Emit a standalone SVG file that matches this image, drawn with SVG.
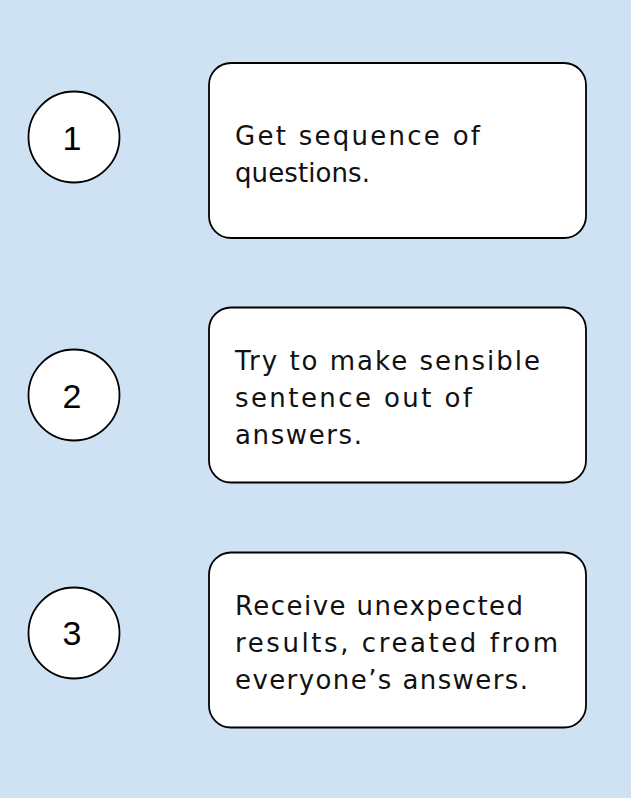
<svg xmlns="http://www.w3.org/2000/svg" width="633" height="800" viewBox="0 0 633 800">
  <style>
    .bg { fill: #cfe2f3; }
    .circ { fill: #ffffff; stroke: #000000; stroke-width: 1.8; }
    .box { fill: #ffffff; stroke: #000000; stroke-width: 1.8; }
    .num { font-family: "Liberation Sans", Arial, sans-serif; font-size: 34px; fill: #000000; text-anchor: middle; }
    .lbl { font-family: "DejaVu Sans", "Liberation Sans", sans-serif; font-size: 26px; fill: #111111; }
  </style>
  <rect class="bg" x="0" y="0" width="631" height="798"/>
  <g id="step1-number">
    <circle class="circ" cx="74" cy="137" r="45.5"/>
    <text class="num" x="72" y="150">1</text>
  </g>
  <g id="step1-box">
    <rect class="box" x="209" y="63" width="377" height="175" rx="22" ry="22"/>
    <text class="lbl" x="235" y="145" textLength="245" lengthAdjust="spacing">Get sequence of</text>
    <text class="lbl" x="235" y="182" textLength="135" lengthAdjust="spacing">questions.</text>
  </g>
  <g id="step2-number">
    <circle class="circ" cx="74" cy="395" r="45.5"/>
    <text class="num" x="72" y="408">2</text>
  </g>
  <g id="step2-box">
    <rect class="box" x="209" y="307.5" width="377" height="175" rx="22" ry="22"/>
    <text class="lbl" x="235" y="370" textLength="305" lengthAdjust="spacing">Try to make sensible</text>
    <text class="lbl" x="235" y="407" textLength="237" lengthAdjust="spacing">sentence out of</text>
    <text class="lbl" x="235" y="444" textLength="127" lengthAdjust="spacing">answers.</text>
  </g>
  <g id="step3-number">
    <circle class="circ" cx="74" cy="633" r="45.5"/>
    <text class="num" x="72" y="645">3</text>
  </g>
  <g id="step3-box">
    <rect class="box" x="209" y="552.5" width="377" height="175" rx="22" ry="22"/>
    <text class="lbl" x="235" y="615" textLength="288" lengthAdjust="spacing">Receive unexpected</text>
    <text class="lbl" x="235" y="652" textLength="323" lengthAdjust="spacing">results, created from</text>
    <text class="lbl" x="235" y="689" textLength="293" lengthAdjust="spacing">everyone’s answers.</text>
  </g>
  <g id="connectors"></g>
</svg>
